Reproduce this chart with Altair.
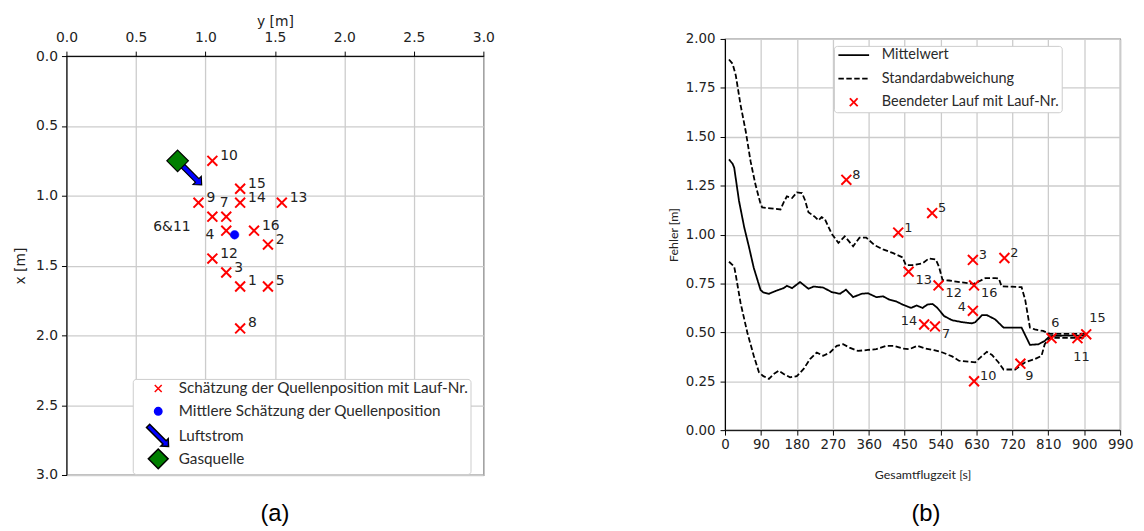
import math
import altair as alt
import pandas as pd

# ---------------- panel (a): estimated source positions ----------------
a_run = ["1", "2", "3", "4", "5", "6&11", "7", "8", "9", "10", "12", "13", "14", "15", "16"]
a_ym = [1.25, 1.45, 1.15, 1.15, 1.45, 1.05, 1.15, 1.25, 0.95, 1.05, 1.05, 1.55, 1.25, 1.25, 1.35]
a_xm = [1.65, 1.35, 1.55, 1.25, 1.65, 1.15, 1.15, 1.95, 1.05, 0.75, 1.45, 1.05, 1.05, 0.95, 1.25]
mean_ym = [1.21]
mean_xm = [1.28]
src_ym = [0.80]
src_xm = [0.75]
wind_ym = [0.89]
wind_xm = [0.84]
a_ticks = [0.0, 0.5, 1.0, 1.5, 2.0, 2.5, 3.0]
a_kinds = ["Schätzung der Quellenposition mit Lauf-Nr.",
           "Mittlere Schätzung der Quellenposition",
           "Luftstrom",
           "Gasquelle"]

# ---------------- panel (b): error over flight time ----------------
b_run = ["1", "2", "3", "4", "5", "6", "7", "8", "9", "10", "11", "12", "13", "14", "15", "16"]
b_t = [434, 700, 621, 621, 519, 818, 526, 304, 740, 624, 883, 535, 460, 499, 905, 624]
b_err = [1.01, 0.88, 0.87, 0.61, 1.11, 0.47, 0.53, 1.28, 0.34, 0.25, 0.47, 0.74, 0.81, 0.54, 0.49, 0.74]

mean_t = [10, 19, 23, 35, 48, 60, 72, 89, 96, 110, 130, 147, 155, 168, 188, 209, 222, 246, 267, 288,
          303, 321, 342, 358, 379, 396, 412, 429, 445, 466, 480, 495, 507, 520, 532, 549, 569, 594,
          619, 627, 644, 656, 677, 698, 743, 764, 785, 801, 814, 850, 905]
mean_v = [1.384, 1.362, 1.342, 1.173, 1.038, 0.937, 0.83, 0.717, 0.704, 0.697, 0.714, 0.726, 0.738,
          0.726, 0.757, 0.723, 0.734, 0.729, 0.706, 0.697, 0.718, 0.68, 0.697, 0.70, 0.68, 0.684,
          0.667, 0.658, 0.642, 0.625, 0.637, 0.625, 0.642, 0.645, 0.625, 0.583, 0.562, 0.552, 0.546,
          0.552, 0.588, 0.588, 0.566, 0.524, 0.524, 0.436, 0.439, 0.456, 0.481, 0.483, 0.483]
upper_t = [10, 19, 27, 39, 52, 64, 76, 88, 93, 114, 139, 147, 155, 168, 180, 193, 201, 209, 226, 234,
           242, 250, 267, 284, 300, 321, 337, 354, 375, 396, 420, 445, 453, 470, 495, 511, 528, 536,
           545, 561, 594, 623, 636, 652, 677, 686, 693, 743, 752, 764, 776, 797, 814, 850, 905]
upper_v = [1.895, 1.873, 1.814, 1.662, 1.527, 1.375, 1.258, 1.165, 1.139, 1.134, 1.128, 1.165, 1.195,
           1.187, 1.215, 1.212, 1.173, 1.114, 1.089, 1.072, 1.089, 1.08, 1.005, 0.957, 0.991, 0.94,
           0.984, 0.984, 0.945, 0.924, 0.906, 0.883, 0.844, 0.844, 0.853, 0.878, 0.873, 0.836, 0.768,
           0.765, 0.755, 0.748, 0.76, 0.777, 0.777, 0.775, 0.735, 0.731, 0.667, 0.524, 0.515, 0.507,
           0.492, 0.492, 0.492]
lower_t = [10, 23, 27, 39, 56, 72, 85, 96, 110, 122, 135, 147, 163, 180, 197, 213, 230, 246, 263, 280,
           296, 312, 333, 358, 379, 404, 424, 445, 462, 482, 503, 524, 545, 569, 586, 611, 627, 640,
           656, 669, 685, 698, 727, 752, 776, 793, 801, 814, 850, 905]
lower_v = [0.861, 0.836, 0.793, 0.65, 0.498, 0.38, 0.296, 0.276, 0.262, 0.287, 0.304, 0.287, 0.27,
           0.276, 0.313, 0.363, 0.397, 0.38, 0.397, 0.431, 0.439, 0.422, 0.405, 0.41, 0.414, 0.431,
           0.431, 0.417, 0.414, 0.431, 0.417, 0.409, 0.397, 0.377, 0.355, 0.35, 0.347, 0.372, 0.4,
           0.384, 0.347, 0.31, 0.31, 0.347, 0.363, 0.38, 0.439, 0.472, 0.472, 0.472]
b_xticks = [0, 90, 180, 270, 360, 450, 540, 630, 720, 810, 900, 990]
b_yticks = [0.0, 0.25, 0.5, 0.75, 1.0, 1.25, 1.5, 1.75, 2.0]
b_series = ["Mittelwert", "Standardabweichung", "Beendeter Lauf mit Lauf-Nr."]

# ---------------- label placement (annotation style) ----------------
a_place = {"4": "left", "6&11": "leftfar", "7": "above"}
a_styles = {"ur": ("left", 8, -5), "left": ("right", -12, 4),
            "leftfar": ("right", -22, 10), "above": ("center", -2, -14)}
b_place = {"7": "lr", "12": "lr", "13": "lr", "16": "lr", "9": "lr2",
           "4": "ul", "14": "ul", "6": "above", "11": "below", "15": "ur2"}
b_styles = {"ur": ("left", 6, -5), "lr": ("left", 7, 8), "lr2": ("left", 5, 13),
            "ul": ("right", -7, -4), "above": ("center", 4, -15), "below": ("center", 4, 19),
            "ur2": ("left", 3, -16)}


# ---------------- symbol paths ----------------
def polygon(points):
    return "M" + "L".join(f"{x:.3f},{y:.3f}" for x, y in points) + "Z"


def rotate45(pts):
    s = math.sqrt(2)
    return [((u - v) / s, (u + v) / s) for u, v in pts]


BOX = "M-2.1,-2.1M2.1,2.1"   # common symbol extent so legend rows are evenly spaced
X_A = BOX + "M-0.7,-0.7L0.7,0.7M-0.7,0.7L0.7,-0.7"
CIRCLE = BOX + "M-0.75,0A0.75,0.75 0 1,0 0.75,0A0.75,0.75 0 1,0 -0.75,0Z"
DIAMOND = "M0,-2L2,0L0,2L-2,0Z"
ARROW = polygon(rotate45([(-2.9, -0.45), (1.8, -0.45), (1.8, -1.05), (2.95, 0),
                          (1.8, 1.05), (1.8, 0.45), (-2.9, 0.45)]))
X_B = "M-0.8,-0.8L0.8,0.8M-0.8,0.8L0.8,-0.8"
LINE_B = "M-3.1,0L3.1,0"

# ---------------- panel (a) ----------------
df_runs_a = pd.DataFrame({"ym": a_ym, "xm": a_xm, "run": a_run, "kind": a_kinds[0]})
df_runs_a["place"] = [a_place.get(r, "ur") for r in a_run]
df_mean_a = pd.DataFrame({"ym": mean_ym, "xm": mean_xm, "kind": a_kinds[1]})
df_wind = pd.DataFrame({"ym": wind_ym, "xm": wind_xm, "kind": a_kinds[2]})
df_src = pd.DataFrame({"ym": src_ym, "xm": src_xm, "kind": a_kinds[3]})

tick_font = "DejaVu Sans"
axis_common = dict(labelFont=tick_font, labelFontSize=14, labelColor="#222222",
                   titleFont=tick_font, titleFontSize=14, titleFontWeight="normal",
                   titleColor="#222222", tickColor="black", tickSize=5, tickWidth=1,
                   domainColor="black", gridColor="#cccccc", gridWidth=1.3,
                   labelOverlap=False)

xa = alt.X("ym:Q", scale=alt.Scale(domain=[0, 3], nice=False),
           axis=alt.Axis(orient="top", title="y [m]", values=a_ticks, format=".1f",
                         labelFlush=False, labelPadding=7, titlePadding=2, **axis_common))
ya = alt.Y("xm:Q", scale=alt.Scale(domain=[0, 3], reverse=True, nice=False),
           axis=alt.Axis(orient="left", title="x [m]", values=a_ticks, format=".1f",
                         labelPadding=4, titlePadding=8, **axis_common))

leg_a = alt.Legend(orient="none", legendX=67, legendY=326, fillColor="white",
                   strokeColor="#cccccc", cornerRadius=3, padding=2, labelFont="Lato",
                   labelFontSize=15.4, labelColor="#2a2a2a", symbolSize=100,
                   symbolStrokeWidth=1.5, rowPadding=-5, symbolOffset=16, labelOffset=13,
                   labelLimit=500)
shape_a = alt.Scale(domain=a_kinds, range=[X_A, CIRCLE, ARROW, DIAMOND])
fill_a = alt.Scale(domain=a_kinds, range=["transparent", "#0000ff", "#0000ff", "#007f00"])
stroke_a = alt.Scale(domain=a_kinds, range=["#ff0000", "#0000ff", "#000000", "#000000"])


def sym_layer(df, size, sw):
    return alt.Chart(df).mark_point(filled=True, opacity=1, size=size, strokeWidth=sw).encode(
        x=xa, y=ya,
        shape=alt.Shape("kind:N", scale=shape_a, legend=leg_a, title=None),
        fill=alt.Fill("kind:N", scale=fill_a, legend=leg_a, title=None),
        stroke=alt.Stroke("kind:N", scale=stroke_a, legend=leg_a, title=None),
    )


layers_a = [sym_layer(df_runs_a, 204, 2), sym_layer(df_mean_a, 135, 0.5),
            sym_layer(df_wind, 125, 1.2), sym_layer(df_src, 118, 1.2)]
for key, (al, dx, dy) in a_styles.items():
    layers_a.append(
        alt.Chart(df_runs_a).transform_filter(alt.datum.place == key)
        .mark_text(font=tick_font, fontSize=14, color="#222222", align=al, baseline="middle",
                   dx=dx, dy=dy)
        .encode(x=xa, y=ya, text="run:N")
    )

panel_a_inner = alt.layer(*layers_a).properties(
    width=421, height=423,
    title=alt.TitleParams(text="(a)", orient="bottom", anchor="middle", font="Liberation Sans",
                          fontSize=24, fontWeight="normal", color="black", offset=20),
)

# ---------------- panel (b) ----------------
df_lines = pd.concat([
    pd.DataFrame({"t": mean_t, "err": mean_v, "series": b_series[0], "branch": "m"}),
    pd.DataFrame({"t": upper_t, "err": upper_v, "series": b_series[1], "branch": "o"}),
    pd.DataFrame({"t": lower_t, "err": lower_v, "series": b_series[1], "branch": "u"}),
], ignore_index=True)
df_runs_b = pd.DataFrame({"t": b_t, "err": b_err, "run": b_run, "series": b_series[2]})
df_runs_b["place"] = [b_place.get(r, "ur") for r in b_run]

axis_b = dict(axis_common)
axis_b.update(labelFontSize=13.5, titleFont="Lato", titleFontSize=12.5)
xb = alt.X("t:Q", scale=alt.Scale(domain=[0, 990], nice=False),
           axis=alt.Axis(title="Gesamtflugzeit [s]", values=b_xticks, labelFlush=False,
                         labelPadding=3, titlePadding=17, **axis_b))
yb = alt.Y("err:Q", scale=alt.Scale(domain=[0, 2], nice=False),
           axis=alt.Axis(title="Fehler [m]", values=b_yticks, format=".2f",
                         labelPadding=5, titlePadding=5, **axis_b))

leg_b = alt.Legend(orient="none", legendX=110, legendY=7, fillColor="white",
                   strokeColor="#cccccc", cornerRadius=3, padding=2, labelFont="Lato",
                   labelFontSize=14.6, labelColor="#2a2a2a", symbolSize=100,
                   symbolStrokeWidth=1.8, rowPadding=8.8, symbolOffset=10.7, labelOffset=21,
                   labelLimit=500)
stroke_b = alt.Scale(domain=b_series, range=["#000000", "#000000", "#ff0000"])
dash_b = alt.Scale(domain=b_series, range=[[1, 0], [5.5, 2.5], [1, 0]])
shape_b = alt.Scale(domain=b_series, range=[LINE_B, LINE_B, X_B])

lines_b = alt.Chart(df_lines).mark_line(strokeWidth=1.8).encode(
    x=xb, y=yb,
    stroke=alt.Stroke("series:N", scale=stroke_b, legend=leg_b, title=None),
    strokeDash=alt.StrokeDash("series:N", scale=dash_b, legend=leg_b, title=None),
    detail="branch:N",
)
pts_b = alt.Chart(df_runs_b).mark_point(filled=False, opacity=1, size=156, strokeWidth=2).encode(
    x=xb, y=yb,
    shape=alt.Shape("series:N", scale=shape_b, legend=leg_b, title=None),
    stroke=alt.Stroke("series:N", scale=stroke_b, legend=leg_b, title=None),
)
layers_b = [lines_b, pts_b]
for key, (al, dx, dy) in b_styles.items():
    layers_b.append(
        alt.Chart(df_runs_b).transform_filter(alt.datum.place == key)
        .mark_text(font=tick_font, fontSize=13, color="#222222", align=al, baseline="middle",
                   dx=dx, dy=dy)
        .encode(x=xb, y=yb, text="run:N")
    )

panel_b_inner = alt.layer(*layers_b).properties(width=399, height=395)

# ---------------- layout ----------------
indep_scales = dict(shape="independent", fill="independent", stroke="independent",
                    strokeDash="independent")


def spacer():
    # invisible 1x1 view used only to offset the two panels vertically
    return alt.Chart(pd.DataFrame({"v": [0]})).mark_point(
        opacity=0, size=0, strokeWidth=0
    ).encode(
        x=alt.value(0), y=alt.value(0)
    ).properties(width=1, height=1, view=alt.ViewBackground(stroke="transparent"))


panel_a = alt.vconcat(spacer(), panel_a_inner, spacing=0).resolve_scale(
    **indep_scales).resolve_legend(**indep_scales)
panel_b = alt.vconcat(
    spacer(), panel_b_inner, spacing=17.7,
    title=alt.TitleParams(text="(b)", orient="bottom", anchor="middle", font="Liberation Sans",
                          fontSize=24, fontWeight="normal", color="black", offset=21, dx=26),
).resolve_scale(**indep_scales).resolve_legend(**indep_scales)

chart = alt.hconcat(panel_a, panel_b, spacing=173).resolve_scale(
    **indep_scales
).resolve_legend(
    **indep_scales
).properties(
    padding={"left": 5, "top": 0, "right": 2, "bottom": 2}
).configure_view(stroke="black", strokeWidth=1.2)

chart.save("out.html", embed_options={"renderer": "svg", "actions": False})
